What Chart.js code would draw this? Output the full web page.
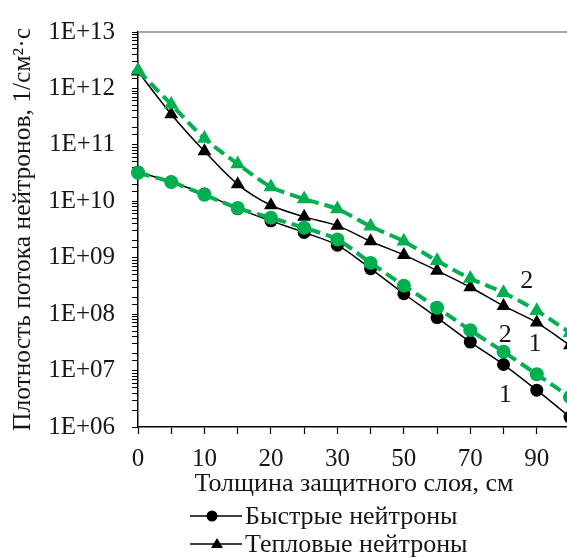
<!DOCTYPE html>
<html>
<head>
<meta charset="utf-8">
<script src="https://cdn.jsdelivr.net/npm/chart.js@4/dist/chart.umd.min.js"></script>
<style>
  html, body { margin: 0; padding: 0; background: #fff; overflow: hidden; }
  #wrap { width: 580px; height: 558px; }
</style>
</head>
<body>
<div id="wrap"><canvas id="myChart" width="580" height="558"></canvas></div>
<script>
// толщина защитного слоя, см
var thickness = [0, 5, 10, 15, 20, 25, 30, 40, 50, 60, 70, 80, 90, 100];

// быстрые нейтроны (кривые 1 и 2)
var fast1 = [3.3e10, 2.2e10, 1.35e10, 7.4e9, 4.5e9, 2.8e9, 1.67e9, 6.4e8, 2.3e8, 8.7e7, 3.2e7, 1.28e7, 4.5e6, 1.5e6];
var fast2 = [3.2e10, 2.2e10, 1.3e10, 7.6e9, 5.1e9, 3.4e9, 2.1e9, 8.1e8, 3.2e8, 1.3e8, 5.2e7, 2.15e7, 8.6e6, 3.4e6];

// тепловые нейтроны (кривые 1 и 2)
var thermal1 = [2.0e12, 3.5e11, 7.7e10, 2.0e10, 8.5e9, 5.3e9, 3.7e9, 1.95e9, 1.12e9, 5.9e8, 3.0e8, 1.4e8, 7.1e7, 2.8e7];
var thermal2 = [2.1e12, 5.2e11, 1.3e11, 4.6e10, 1.8e10, 1.1e10, 7.3e9, 3.6e9, 1.95e9, 8.8e8, 4.3e8, 2.4e8, 1.15e8, 4.7e7];

// подписи кривых: текст, категория (индекс), значение
var curveLabels = [
    { text: '2', at: 11.7, value: 3.8e8 },
    { text: '2', at: 11.05, value: 4.2e7 },
    { text: '1', at: 11.95, value: 2.96e7 },
    { text: '1', at: 11.05, value: 3.6e6 }
];

var legendItems = ['Быстрые нейтроны', 'Тепловые нейтроны'];

var FONT = "'Liberation Serif', 'Times New Roman', serif";
var TEXT = '#161616';
var GREEN = '#00b050';

// рамка области построения, подписи кривых и легенда
var extras = {
    id: 'extras',
    afterDatasetsDraw: function (chart) {
        var ctx = chart.ctx;
        var a = chart.chartArea;
        var xs = chart.scales.x, ys = chart.scales.y;

        ctx.save();
        ctx.strokeStyle = '#8c8c8c';
        ctx.lineWidth = 1.5;
        ctx.beginPath();
        ctx.moveTo(a.left, a.top);
        ctx.lineTo(a.right, a.top);
        ctx.lineTo(a.right, a.bottom);
        ctx.stroke();

        ctx.fillStyle = TEXT;
        ctx.font = '26px ' + FONT;
        ctx.textAlign = 'center';
        ctx.textBaseline = 'middle';
        curveLabels.forEach(function (l) {
            ctx.fillText(l.text, xs.getPixelForValue(l.at), ys.getPixelForValue(l.value));
        });
        ctx.restore();
    },
    afterDraw: function (chart) {
        var ctx = chart.ctx;
        var styles = ['circle', 'triangle'];
        ctx.save();
        legendItems.forEach(function (txt, i) {
            var y = 516 + i * 28;
            ctx.strokeStyle = '#000';
            ctx.lineWidth = 1.5;
            ctx.beginPath();
            ctx.moveTo(190, y);
            ctx.lineTo(242, y);
            ctx.stroke();
            ctx.fillStyle = '#000';
            ctx.beginPath();
            if (styles[i] === 'circle') {
                ctx.arc(212, y, 5.5, 0, Math.PI * 2);
            } else {
                ctx.moveTo(217, y - 6);
                ctx.lineTo(223, y + 4);
                ctx.lineTo(211, y + 4);
                ctx.closePath();
            }
            ctx.fill();
            ctx.fillStyle = TEXT;
            ctx.font = '26px ' + FONT;
            ctx.textAlign = 'left';
            ctx.textBaseline = 'middle';
            ctx.fillText(txt, 245, y + 1);
        });
        ctx.restore();
    }
};

function blackLine(label, data, style, r) {
    return {
        label: label,
        data: data,
        borderColor: '#000',
        borderWidth: 1.5,
        backgroundColor: '#000',
        pointBackgroundColor: '#000',
        pointBorderColor: '#000',
        pointStyle: style,
        pointRadius: r,
        pointBorderWidth: 0,
        tension: 0.3,
        order: 2
    };
}

function greenLine(label, data, style, r) {
    return {
        label: label,
        data: data,
        borderColor: GREEN,
        borderWidth: 4,
        borderDash: [12, 6],
        backgroundColor: GREEN,
        pointBackgroundColor: GREEN,
        pointBorderColor: GREEN,
        pointStyle: style,
        pointRadius: r,
        pointBorderWidth: 0,
        tension: 0.3,
        order: 1
    };
}

var ctx = document.getElementById('myChart').getContext('2d');
var myChart = new Chart(ctx, {
    type: 'line',
    data: {
        labels: thickness,
        datasets: [
            blackLine('Быстрые нейтроны 1', fast1, 'circle', 6.5),
            greenLine('Быстрые нейтроны 2', fast2, 'circle', 7),
            blackLine('Тепловые нейтроны 1', thermal1, 'triangle', 8),
            greenLine('Тепловые нейтроны 2', thermal2, 'triangle', 8.5)
        ]
    },
    options: {
        responsive: false,
        animation: false,
        layout: { padding: { top: 23, right: 8, left: 0, bottom: 0 } },
        plugins: {
            legend: { display: false },
            tooltip: { enabled: false }
        },
        scales: {
            x: {
                type: 'category',
                offset: false,
                afterFit: function (s) { s.height = 131; },
                border: { color: '#000', width: 1.5 },
                grid: { drawOnChartArea: false, drawTicks: true, tickLength: 7, tickColor: '#000', tickWidth: 1.2 },
                ticks: {
                    autoSkip: false,
                    maxRotation: 0,
                    padding: 10,
                    color: TEXT,
                    font: { family: FONT, size: 25 },
                    callback: function (v, i) { return i % 2 === 0 ? String(thickness[i]) : ''; }
                },
                title: {
                    display: true,
                    text: 'Толщина защитного слоя, см',
                    color: TEXT,
                    font: { family: FONT, size: 26 },
                    padding: { top: 0, bottom: 58 }
                }
            },
            y: {
                type: 'logarithmic',
                min: 1e6,
                max: 1e13,
                afterFit: function (s) { s.width = 138; },
                border: { color: '#000', width: 1.5 },
                grid: { drawOnChartArea: false, drawTicks: true, tickLength: 6, tickColor: '#000', tickWidth: 1 },
                ticks: {
                    autoSkip: false,
                    padding: 17,
                    color: TEXT,
                    font: { family: FONT, size: 25 },
                    callback: function (v) {
                        var e = Math.round(Math.log10(v));
                        if (Math.abs(v - Math.pow(10, e)) > 1e-6 * v) return '';
                        return '1E+' + (e < 10 ? '0' + e : e);
                    }
                },
                title: {
                    display: true,
                    text: 'Плотность потока нейтронов, 1/см²·с',
                    color: TEXT,
                    font: { family: FONT, size: 25.5 },
                    padding: { top: 8, bottom: 0 }
                }
            }
        }
    },
    plugins: [extras]
});
</script>
</body>
</html>
